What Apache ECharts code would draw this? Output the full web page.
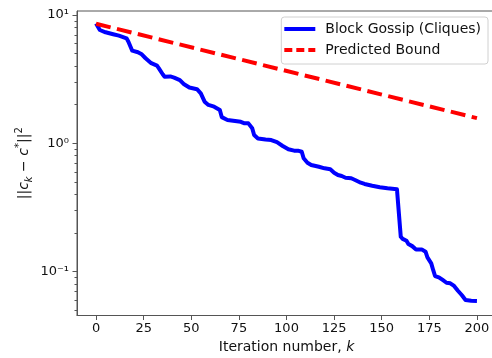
<!DOCTYPE html>
<html>
<head>
<meta charset="utf-8">
<script src="https://cdn.jsdelivr.net/npm/echarts@6/dist/echarts.min.js"></script>
<style>html,body{margin:0;padding:0;background:#fff;}#c{width:492px;height:358px;}</style>
</head>
<body>
<div id="c"></div>
<script>
// ---- data ----
const gossipK = [0,2,5,9,12,16,17,19,22,24,26,29,32,33,35,36,39,41,44,46,49,53,55,57,59,62,65,66,69,73,76,78,80,82,83,85,89,92,95,98,101,104,106,108,109,111,113,117,120,123,125,127,129,131,134,136,139,141,145,149,153,158,159,160,161,163,164,166,168,171,173,174,176,177,178,180,182,184,186,188,190,192,194,197,200];
const gossipVals = [8.6,7.64,7.33,7.08,6.9,6.58,6.19,5.27,5.12,4.94,4.6,4.21,4.03,3.84,3.45,3.30,3.32,3.25,3.11,2.9,2.72,2.64,2.45,2.11,1.99,1.93,1.82,1.6,1.52,1.49,1.47,1.43,1.43,1.31,1.16,1.09,1.07,1.06,1.02,0.953,0.898,0.876,0.876,0.86,0.764,0.706,0.678,0.657,0.638,0.627,0.59,0.566,0.556,0.539,0.534,0.518,0.493,0.482,0.467,0.454,0.446,0.438,0.438,0.187,0.18,0.174,0.164,0.158,0.149,0.149,0.143,0.129,0.116,0.103,0.0924,0.0903,0.0861,0.0819,0.0811,0.0773,0.071,0.0657,0.0601,0.0593,0.059];
const boundK = [0, 200];
const boundVals = [8.55, 1.57];
const xTicks = [0,25,50,75,100,125,150,175,200];
const yMajorTicks = [0.1, 1, 10];
const yMinorTicks = [0.05,0.06,0.07,0.08,0.09,0.2,0.3,0.4,0.5,0.6,0.7,0.8,0.9,2,3,4,5,6,7,8,9];
const seriesNames = ['Block Gossip (Cliques)', 'Predicted Bound'];

const sup = {'0':'⁰','1':'¹','2':'²','-':'⁻'};
function fmtPow(v){
  const e = Math.round(Math.log10(v));
  return '10' + String(e).split('').map(ch => sup[ch]).join('');
}
const FONT = 'DejaVu Sans';
const chart = echarts.init(document.getElementById('c'), null, {renderer:'canvas'});
const yMin = 0.0455, yMax = 10.74;
const solidIcon = 'path://M0,0H31V4H0Z';
const dashIcon = 'path://M0,0H8V4H0Z M12,0H20V4H12Z M24,0H31V4H24Z';
chart.setOption({
  animation: false,
  textStyle: {fontFamily: FONT},
  grid: {left: 77, right: -4, top: 11, bottom: 42.5, outerBoundsMode: 'none', containLabel: false,
         show: true, borderColor: '#555', borderWidth: 1, backgroundColor: 'transparent'},
  legend: {
    orient: 'vertical', right: 4, top: 17,
    data: [
      {name: seriesNames[0], icon: solidIcon, itemStyle: {color: '#0000ff'}},
      {name: seriesNames[1], icon: dashIcon, itemStyle: {color: '#ff0000'}}
    ],
    itemWidth: 31, itemHeight: 14, itemGap: 7,
    padding: [5, 7, 7, 3],
    backgroundColor: 'rgba(255,255,255,0.8)', borderColor: '#d0d0d0', borderWidth: 1, borderRadius: 3,
    textStyle: {fontSize: 14, color: '#111', fontFamily: FONT, padding: [0,0,0,5]}
  },
  xAxis: {
    type: 'value', min: -10, max: 210,
    name: 'Iteration number, {i|k}', nameLocation: 'middle', nameGap: 25, nameMoveOverlap: false,
    nameTextStyle: {fontSize: 14, color: '#111', fontFamily: FONT, rich: {i: {fontSize: 14, fontStyle: 'italic', color: '#111', fontFamily: FONT}}},
    axisLine: {show: true, onZero: false, lineStyle: {color: '#555', width: 1}},
    axisTick: {show: true, length: 4.5, customValues: xTicks, lineStyle: {color: '#555'}},
    axisLabel: {customValues: xTicks, fontSize: 13, color: '#111', margin: 7, fontFamily: FONT},
    splitLine: {show: false}
  },
  yAxis: [{
    type: 'log', logBase: 10, min: yMin, max: yMax,
    name: '||{i|c}{sub|k} − {i|c}{sup|*}||{sup|2}', nameLocation: 'middle', nameGap: 43, nameRotate: 90, nameMoveOverlap: false,
    nameTextStyle: {fontSize: 14, color: '#111', fontFamily: FONT, lineHeight: 20,
      rich: {
        i: {fontSize: 14, fontStyle: 'italic', color: '#111', fontFamily: FONT, lineHeight: 20},
        sub: {fontSize: 10, fontStyle: 'italic', color: '#111', fontFamily: FONT, verticalAlign: 'bottom', lineHeight: 10},
        sup: {fontSize: 10, color: '#111', fontFamily: FONT, verticalAlign: 'top', lineHeight: 10}
      }},
    axisLine: {show: true, onZero: false, lineStyle: {color: '#555', width: 1}},
    axisTick: {show: true, length: 4.5, customValues: yMajorTicks, lineStyle: {color: '#555'}},
    axisLabel: {customValues: yMajorTicks, fontSize: 13, color: '#111', margin: 8, fontFamily: FONT, formatter: v => fmtPow(v)},
    splitLine: {show: false}
  }, {
    type: 'log', logBase: 10, min: yMin, max: yMax, position: 'left', gridIndex: 0, offset: 0,
    axisLine: {show: false, onZero: false},
    axisTick: {show: true, length: 2.5, customValues: yMinorTicks, lineStyle: {color: '#555'}},
    axisLabel: {show: false},
    splitLine: {show: false}
  }],
  series: [{
    name: seriesNames[0], type: 'line', yAxisIndex: 0,
    data: gossipK.map((k, i) => [k, gossipVals[i]]),
    symbol: 'none', lineStyle: {color: '#0000ff', width: 4, join: 'round'}, itemStyle: {color: '#0000ff'}
  }, {
    name: seriesNames[1], type: 'line', yAxisIndex: 0,
    data: boundK.map((k, i) => [k, boundVals[i]]),
    symbol: 'none', lineStyle: {color: '#ff0000', width: 4, type: [15, 6.5]}, itemStyle: {color: '#ff0000'}
  }]
});
</script>
</body>
</html>
